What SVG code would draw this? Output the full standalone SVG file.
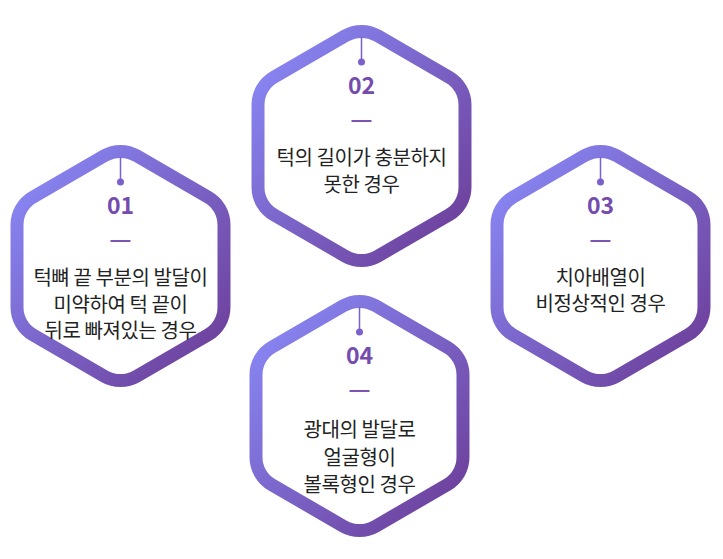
<svg xmlns="http://www.w3.org/2000/svg" width="723" height="559" viewBox="0 0 723 559">
  <style>
    .hex { fill: #ffffff; stroke: url(#grad); stroke-width: 13; }
    .stem { stroke: #7b5fcc; stroke-width: 1.5; }
    .dot { fill: #7b5fcc; }
    .num { font-family: "Noto Sans CJK KR", "Noto Sans", sans-serif; font-weight: 700; font-size: 23px; fill: #744cae; text-anchor: middle; }
    .dash { fill: #7a55b5; }
    .txt { font-family: "Noto Sans CJK KR", "Noto Sans", sans-serif; font-size: 20px; fill: #222222; text-anchor: middle; letter-spacing: -0.4px; }
  </style>
  <defs>
    <linearGradient id="grad" x1="0" y1="0" x2="1" y2="1">
      <stop offset="0" stop-color="#8a8cfb"/>
      <stop offset="1" stop-color="#6b3a93"/>
    </linearGradient>
    <path id="hexshape" d="M -16,-110.26 A 32 32 0 0 1 16,-110.26 L 87.49,-68.99 A 32 32 0 0 1 103.49,-41.27 L 103.49,41.27 A 32 32 0 0 1 87.49,68.99 L 16,110.26 A 32 32 0 0 1 -16,110.26 L -87.49,68.99 A 32 32 0 0 1 -103.49,41.27 L -103.49,-41.27 A 32 32 0 0 1 -87.49,-68.99 Z"/>
  </defs>
  <rect width="723" height="559" fill="#ffffff"/>
  <g id="connectors"></g>

  <g id="node-01" transform="translate(120.5,266)">
    <use href="#hexshape" class="hex"/>
    <line class="stem" x1="0" y1="-109" x2="0" y2="-84"/>
    <circle class="dot" cx="0" cy="-84" r="3.5"/>
    <text class="num" x="0" y="-52">01</text>
    <rect class="dash" x="-10" y="-26" width="20" height="2"/>
    <text class="txt" x="0" y="19">턱뼈 끝 부분의 발달이</text>
    <text class="txt" x="0" y="45.5">미약하여 턱 끝이</text>
    <text class="txt" x="0" y="72">뒤로 빠져있는 경우</text>
  </g>

  <g id="node-02" transform="translate(361.5,146)">
    <use href="#hexshape" class="hex"/>
    <line class="stem" x1="0" y1="-109" x2="0" y2="-84"/>
    <circle class="dot" cx="0" cy="-84" r="3.5"/>
    <text class="num" x="0" y="-52">02</text>
    <rect class="dash" x="-10" y="-26" width="20" height="2"/>
    <text class="txt" x="0" y="18.5">턱의 길이가 충분하지</text>
    <text class="txt" x="0" y="46">못한 경우</text>
  </g>

  <g id="node-03" transform="translate(600.5,266)">
    <use href="#hexshape" class="hex"/>
    <line class="stem" x1="0" y1="-109" x2="0" y2="-84"/>
    <circle class="dot" cx="0" cy="-84" r="3.5"/>
    <text class="num" x="0" y="-52">03</text>
    <rect class="dash" x="-10" y="-26" width="20" height="2"/>
    <text class="txt" x="0" y="18.5">치아배열이</text>
    <text class="txt" x="0" y="45">비정상적인 경우</text>
  </g>

  <g id="node-04" transform="translate(359.5,416)">
    <use href="#hexshape" class="hex"/>
    <line class="stem" x1="0" y1="-109" x2="0" y2="-84"/>
    <circle class="dot" cx="0" cy="-84" r="3.5"/>
    <text class="num" x="0" y="-52">04</text>
    <rect class="dash" x="-10" y="-26" width="20" height="2"/>
    <text class="txt" x="0" y="20.5">광대의 발달로</text>
    <text class="txt" x="0" y="48.5">얼굴형이</text>
    <text class="txt" x="0" y="75.5">볼록형인 경우</text>
  </g>
</svg>
